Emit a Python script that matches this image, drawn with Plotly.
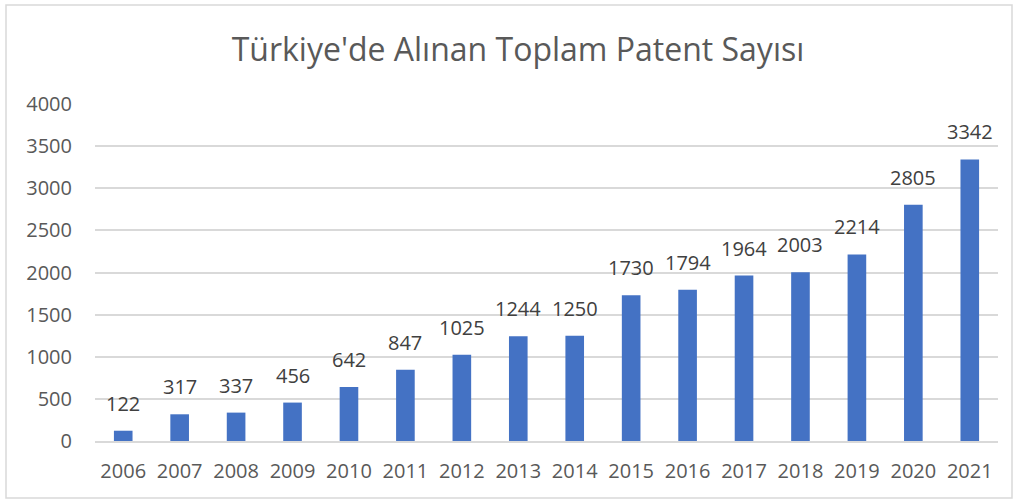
import plotly.graph_objects as go

years = ["2006", "2007", "2008", "2009", "2010", "2011", "2012", "2013",
         "2014", "2015", "2016", "2017", "2018", "2019", "2020", "2021"]
patents = [122, 317, 337, 456, 642, 847, 1025, 1244,
           1250, 1730, 1794, 1964, 2003, 2214, 2805, 3342]
y_ticks = [0, 500, 1000, 1500, 2000, 2500, 3000, 3500, 4000]

W, H = 1018, 501
ml, mr, mt, mb = 95, 20, 104, 60
pw, ph = W - ml - mr, H - mt - mb

font_family = "Open Sans, Noto Sans, sans-serif"

fig = go.Figure(go.Bar(
    x=years,
    y=patents,
    marker=dict(color="#4472C4", line=dict(width=0)),
    cliponaxis=False,
))

# value labels above each bar (category index positions on the x axis)
for idx, val in enumerate(patents):
    fig.add_annotation(x=idx, y=val, text=str(val), showarrow=False,
                       xanchor="center", yanchor="bottom", yshift=12,
                       font=dict(size=20, color="#404040", family=font_family))

# outer chart border
fig.add_shape(type="rect", xref="paper", yref="paper",
              x0=(6 - ml) / pw, x1=(1012 - ml) / pw,
              y0=(H - mb - 498) / ph, y1=(H - mb - 5) / ph,
              line=dict(color="#D9D9D9", width=1.5), fillcolor="rgba(0,0,0,0)")

fig.update_layout(
    width=W, height=H,
    margin=dict(l=ml, r=mr, t=mt, b=mb),
    paper_bgcolor="white", plot_bgcolor="white",
    bargap=0.67,
    showlegend=False,
    title=dict(text="Türkiye'de Alınan Toplam Patent Sayısı",
               x=518 / W, xref="container", xanchor="center",
               y=1 - 50 / H, yref="container", yanchor="middle",
               font=dict(size=32, color="#595959", family=font_family)),
    xaxis=dict(type="category", showgrid=False, showline=True,
               linecolor="#D9D9D9", linewidth=1.5,
               ticks="", tickfont=dict(size=20, color="#595959", family=font_family),
               ticklabelstandoff=11),
    yaxis=dict(range=[0, 4000], tickvals=y_ticks, showgrid=True,
               gridcolor="#D9D9D9", gridwidth=1.5, zeroline=False,
               ticks="", tickfont=dict(size=20, color="#595959", family=font_family),
               ticklabelstandoff=22),
)

fig.write_html("out.html")
